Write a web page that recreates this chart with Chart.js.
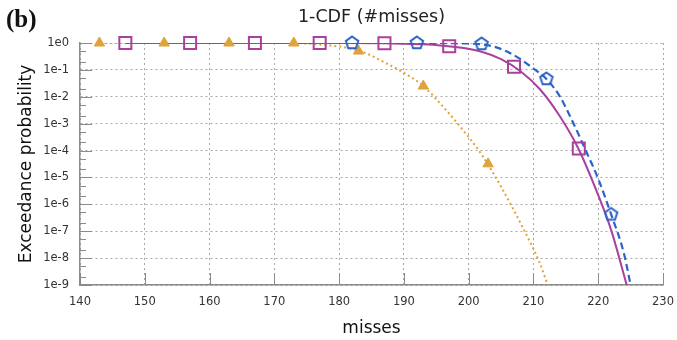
<!DOCTYPE html>
<html>
<head>
<meta charset="utf-8">
<script src="https://cdn.jsdelivr.net/npm/chart.js@4.4.1/dist/chart.umd.min.js"></script>
<style>
  html, body { margin: 0; padding: 0; background: #fff; }
  #wrap { position: relative; width: 677px; height: 340px; }
  #panel { position: absolute; left: 6px; top: 6px; font: bold 25px "Liberation Serif", serif; line-height: 1; color: #111; }
</style>
</head>
<body>
<div id="wrap">
  <canvas id="cdfChart" width="677" height="340"></canvas>
  <div id="panel">(b)</div>
</div>
<script>
// ---------------------------------------------------------------------------
// Dades llegides del gràfic (1-CDF, escala log)
// ---------------------------------------------------------------------------
const X_TICKS = [140, 150, 160, 170, 180, 190, 200, 210, 220, 230];
const Y_TICKS = [1e-9, 1e-8, 1e-7, 1e-6, 1e-5, 1e-4, 1e-3, 1e-2, 1e-1, 1];
const Y_TICK_LABELS = ['1e-9', '1e-8', '1e-7', '1e-6', '1e-5', '1e-4', '1e-3', '1e-2', '1e-1', '1e0'];

// corba taronja (puntejada) i triangles
const orangeCurveX = [143, 150, 160, 170, 175, 178, 181, 184, 187, 190, 193, 196, 199, 202, 205, 208, 211, 212.2];
const orangeCurveY = [1, 1, 1, 0.999, 0.955, 0.83, 0.68, 0.43, 0.19, 0.078, 0.025, 4.4e-3, 6.3e-4, 7.1e-5, 4.5e-6, 2.0e-7, 6.3e-9, 1e-9];
const orangeMarkX = [143, 153, 163, 173, 183, 193, 203];
const orangeMarkY = [1, 1, 1, 1, 0.5, 0.025, 3.2e-5];

// corba lila (contínua) i quadrats
const purpleCurveX = [147, 160, 170, 180, 187, 190, 193, 196, 199, 202, 205, 208, 211, 214, 217, 220, 222, 224.4];
const purpleCurveY = [1, 1, 1, 0.998, 0.977, 0.944, 0.89, 0.79, 0.66, 0.47, 0.25, 0.089, 0.019, 2.0e-3, 1.1e-4, 2.2e-6, 1.1e-7, 1e-9];
const purpleMarkX = [147, 157, 167, 177, 187, 197, 207, 217];
const purpleMarkY = [1, 1, 1, 1, 0.98, 0.76, 0.13, 1.2e-4];

// corba blava (discontínua) i pentàgons
const blueCurveX = [182, 192, 195, 198, 200, 202, 204, 206, 208, 210, 212, 214, 216, 218, 220, 222, 224, 225.0];
const blueCurveY = [1, 1, 1, 0.985, 0.96, 0.9, 0.72, 0.47, 0.25, 0.112, 0.046, 0.011, 1.26e-3, 1.1e-4, 8.9e-6, 4.2e-7, 1.4e-8, 1e-9];
const blueMarkX = [182, 192, 202, 212, 222];
const blueMarkY = [1, 1, 0.92, 0.046, 4.2e-7];

const ORANGE = '#e0a23a';
const PURPLE = '#a8409c';
const BLUE = '#2c64c6';

const toPoints = (xs, ys) => xs.map((x, i) => ({ x: x, y: ys[i] }));

// marcador pentàgon (Chart.js no en té)
function pentagonMarker(size, radius, color) {
    const c = document.createElement('canvas');
    c.width = size;
    c.height = size;
    const g = c.getContext('2d');
    g.beginPath();
    for (let i = 0; i < 5; i++) {
        const a = -Math.PI / 2 + i * 2 * Math.PI / 5;
        g.lineTo(size / 2 + radius * Math.cos(a), size / 2 + radius * Math.sin(a));
    }
    g.closePath();
    g.lineWidth = 2;
    g.strokeStyle = color;
    g.stroke();
    return c;
}

// marques de tick cap a dins (estil gnuplot), amb ticks menors a 2 i 5
const inwardTicks = {
    id: 'inwardTicks',
    beforeDatasetsDraw(chart) {
        const { ctx, chartArea: a, scales: { x, y } } = chart;
        const minors = Y_TICKS.slice(0, -1).flatMap(d => [2 * d, 5 * d]);
        ctx.save();
        ctx.strokeStyle = '#8a8a8a';
        ctx.lineWidth = 1;
        ctx.beginPath();
        X_TICKS.forEach(v => {
            const px = Math.round(x.getPixelForValue(v)) + 0.5;
            ctx.moveTo(px, a.bottom);
            ctx.lineTo(px, a.bottom - 12);
        });
        Y_TICKS.forEach(v => {
            const py = Math.round(y.getPixelForValue(v)) + 0.5;
            ctx.moveTo(a.left, py);
            ctx.lineTo(a.left + 12, py);
        });
        minors.forEach(v => {
            const py = Math.round(y.getPixelForValue(v)) + 0.5;
            ctx.moveTo(a.left, py);
            ctx.lineTo(a.left + 6, py);
        });
        ctx.stroke();
        ctx.restore();
    }
};

Chart.defaults.font.family = '"DejaVu Sans", Verdana, sans-serif';

const ctx = document.getElementById('cdfChart').getContext('2d');
const chart = new Chart(ctx, {
    type: 'scatter',
    data: {
        datasets: [
            {
                label: 'blue marks',
                data: toPoints(blueMarkX, blueMarkY),
                showLine: false,
                clip: false,
                pointStyle: pentagonMarker(18, 6.5, BLUE),
                pointRadius: 7,
                borderColor: BLUE
            },
            {
                label: 'purple marks',
                data: toPoints(purpleMarkX, purpleMarkY),
                showLine: false,
                clip: false,
                pointStyle: 'rect',
                pointRadius: 8.5,
                pointBorderWidth: 2,
                borderColor: PURPLE,
                backgroundColor: 'transparent'
            },
            {
                label: 'orange marks',
                data: toPoints(orangeMarkX, orangeMarkY),
                showLine: false,
                clip: false,
                pointStyle: 'triangle',
                pointRadius: 6,
                pointBorderWidth: 1,
                borderColor: ORANGE,
                backgroundColor: ORANGE
            },
            {
                label: 'blue curve',
                data: toPoints(blueCurveX, blueCurveY),
                showLine: true,
                pointRadius: 0,
                borderColor: BLUE,
                borderWidth: 2.2,
                borderDash: [7, 4],
                cubicInterpolationMode: 'monotone'
            },
            {
                label: 'purple curve',
                data: toPoints(purpleCurveX, purpleCurveY),
                showLine: true,
                pointRadius: 0,
                borderColor: PURPLE,
                borderWidth: 2,
                cubicInterpolationMode: 'monotone'
            },
            {
                label: 'orange curve',
                data: toPoints(orangeCurveX, orangeCurveY),
                showLine: true,
                pointRadius: 0,
                borderColor: ORANGE,
                borderWidth: 2,
                borderDash: [2, 3],
                cubicInterpolationMode: 'monotone'
            }
        ]
    },
    options: {
        responsive: false,
        animation: false,
        events: [],
        layout: { padding: { left: 0, right: 14, top: 0, bottom: 0 } },
        plugins: {
            legend: { display: false },
            tooltip: { enabled: false },
            title: {
                display: true,
                text: '1-CDF (#misses)',
                fullSize: false,
                color: '#222',
                font: { size: 17.5, weight: 'normal' },
                padding: { top: 7, bottom: 15 }
            }
        },
        scales: {
            x: {
                type: 'linear',
                min: 140,
                max: 230,
                afterBuildTicks: s => { s.ticks = X_TICKS.map(v => ({ value: v })); },
                afterFit: s => { s.height = 55; s.paddingLeft = 0; s.paddingRight = 0; },
                ticks: { padding: 10, color: '#333', font: { size: 11.5 }, maxRotation: 0, autoSkip: false },
                grid: { color: '#a8a8a8', lineWidth: 1, drawTicks: false },
                border: { color: '#8a8a8a', width: 1.5, dash: [2, 3] },
                title: { display: true, text: 'misses', color: '#111', font: { size: 17 }, padding: { top: 0, bottom: 1 } }
            },
            y: {
                type: 'logarithmic',
                min: 1e-9,
                max: 1,
                afterBuildTicks: s => { s.ticks = Y_TICKS.map(v => ({ value: v, major: true })); },
                afterFit: s => { s.width = 80; },
                ticks: {
                    padding: 11,
                    color: '#333',
                    font: { size: 11.5 },
                    autoSkip: false,
                    callback: v => Y_TICK_LABELS[Y_TICKS.indexOf(v)]
                },
                grid: { color: '#a8a8a8', lineWidth: 1, drawTicks: false },
                border: { color: '#8a8a8a', width: 1.5, dash: [2, 3] },
                title: { display: true, text: 'Exceedance probability', color: '#111', font: { size: 17 }, padding: { top: 16, bottom: 0 } }
            }
        }
    },
    plugins: [inwardTicks]
});
</script>
</body>
</html>
